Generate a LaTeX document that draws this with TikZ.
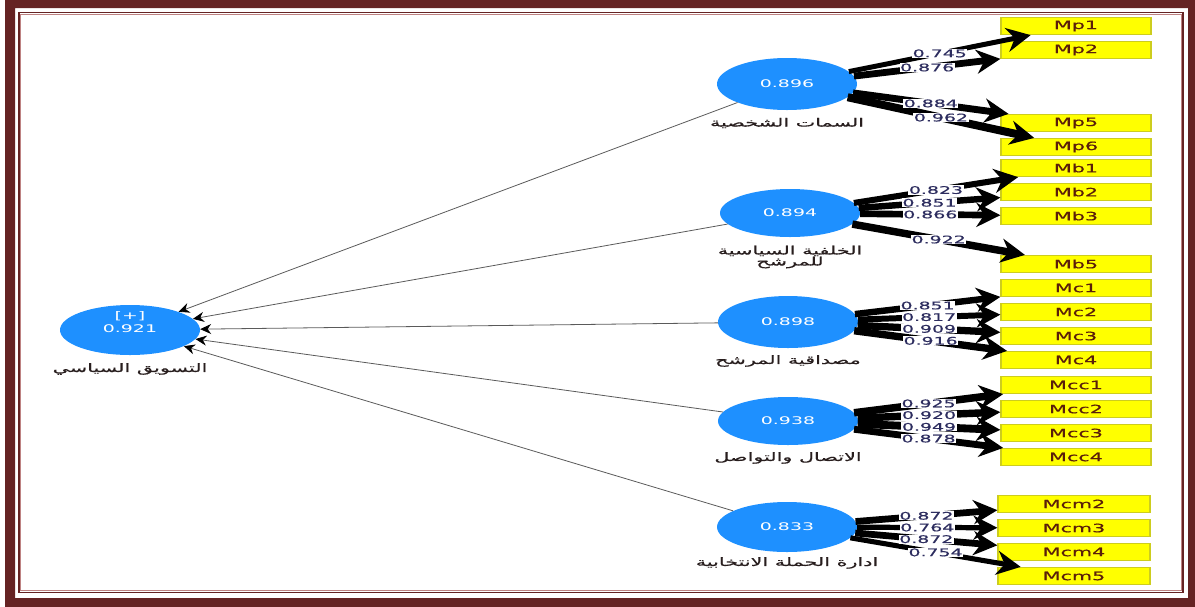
\documentclass[tikz,border=0pt]{standalone}
\usepackage{fontspec}
\setmainfont{DejaVu Sans}
\newfontfamily\widefont[FakeStretch=1.8]{DejaVu Sans}
\newfontfamily\widebold[FakeStretch=1.8,FakeBold=0.6]{DejaVu Sans}
\newfontfamily\arabicfont[Script=Arabic,FakeStretch=1.8,FakeBold=0.6]{DejaVu Sans}
\TeXXeTstate=1
\usetikzlibrary{shapes.geometric,arrows.meta,calc}
\definecolor{framered}{RGB}{101,35,35}
\definecolor{framepink}{RGB}{190,130,130}
\definecolor{lvblue}{RGB}{30,144,255}
\definecolor{boxyellow}{RGB}{255,255,0}
\definecolor{boxedge}{RGB}{205,205,30}
\definecolor{boxtext}{RGB}{90,30,10}
\definecolor{numtext}{RGB}{45,45,95}
\definecolor{arabtext}{RGB}{40,30,30}
\definecolor{structgray}{RGB}{90,90,90}
\tikzset{
  lv/.style={ellipse, fill=lvblue, minimum width=140pt, minimum height=52pt, inner sep=0pt,
    text=white, font=\widefont\fontsize{10.5}{12}\selectfont},
  ind/.style={rectangle, fill=boxyellow, draw=boxedge, line width=1.2pt, minimum width=150pt,
    minimum height=17pt, inner sep=0pt, text=boxtext, font=\widebold\fontsize{11.5}{12}\selectfont},
  load/.style={draw=black, -{Stealth[length=24pt,width=24pt]}},
  lbl/.style={fill=white, inner sep=0.6pt, text=numtext, font=\widebold\fontsize{10.5}{11}\selectfont},
  struct/.style={draw=structgray, line width=0.8pt, -{Stealth[length=11pt,width=10pt,black]}},
  arlabel/.style={text=arabtext, font=\arabicfont\fontsize{11.5}{11}\selectfont, align=center},
}
\begin{document}
\begin{tikzpicture}[x=1pt,y=-1pt]
\useasboundingbox (0,0) rectangle (1195,606);
% frame
\fill[framered,even odd rule] (5,0) rectangle (1196,607) (15,8) rectangle (1188,598);
\draw[framered,line width=1.6pt] (19,12.5) rectangle (1183,592.5);
\draw[framepink,line width=0.9pt] (20.8,14.3) rectangle (1181.2,590.7);
% latent variables
\node[lv, minimum height=50pt] (main) at (130,330) {};
\node[text=white, font=\widefont\fontsize{10.5}{13}\selectfont, align=center] (mainval) at (130,322) {[+]\\0.921};
\node[lv] (e1) at (787,84) {0.896};
\node[lv, minimum height=48pt] (e2) at (790,213) {0.894};
\node[lv] (e3) at (788,322) {0.898};
\node[lv, minimum height=48pt] (e4) at (788,421) {0.938};
\node[lv, minimum height=50pt] (e5) at (787,527) {0.833};
% labels
\node[arlabel] (lmain) at (130,369) {\beginR التسويق السياسي\endR};
\node[arlabel] (l1) at (787,123) {\beginR السمات الشخصية\endR};
\node[arlabel] (l2) at (790,257) {\beginR الخلفية السياسية\endR\\\beginR للمرشح\endR};
\node[arlabel] (l3) at (788,361) {\beginR مصداقية المرشح\endR};
\node[arlabel] (l4) at (788,458) {\beginR الاتصال والتواصل\endR};
\node[arlabel] (l5) at (787,563) {\beginR ادارة الحملة الانتخابية\endR};
% indicators
\node[ind] (mp1) at (1076,26) {Mp1};
\node[ind] (mp2) at (1076,50) {Mp2};
\node[ind] (mp5) at (1076,123) {Mp5};
\node[ind] (mp6) at (1076,147) {Mp6};
\node[ind] (mb1) at (1076,168) {Mb1};
\node[ind] (mb2) at (1076,192) {Mb2};
\node[ind] (mb3) at (1076,216) {Mb3};
\node[ind] (mb5) at (1076,264) {Mb5};
\node[ind] (mc1) at (1076,288) {Mc1};
\node[ind] (mc2) at (1076,312) {Mc2};
\node[ind] (mc3) at (1076,336) {Mc3};
\node[ind] (mc4) at (1076,360) {Mc4};
\node[ind] (mcc1) at (1076,385) {Mcc1};
\node[ind] (mcc2) at (1076,409) {Mcc2};
\node[ind] (mcc3) at (1076,433) {Mcc3};
\node[ind] (mcc4) at (1076,457) {Mcc4};
\node[ind, minimum width=152pt] (mcm2) at (1074,504) {Mcm2};
\node[ind, minimum width=152pt] (mcm3) at (1074,528) {Mcm3};
\node[ind, minimum width=152pt] (mcm4) at (1074,552) {Mcm4};
\node[ind, minimum width=152pt] (mcm5) at (1074,576) {Mcm5};
% structural paths
\foreach \s in {e1,e2,e3,e4,e5} { \draw[struct] (\s) -- (main); }
% loadings
\foreach \a/\b/\v in {e1/mp1/0.745,e1/mp2/0.876,e1/mp5/0.884,e1/mp6/0.962,
  e2/mb1/0.823,e2/mb2/0.851,e2/mb3/0.866,e2/mb5/0.922,
  e3/mc1/0.851,e3/mc2/0.817,e3/mc3/0.909,e3/mc4/0.916,
  e4/mcc1/0.925,e4/mcc2/0.920,e4/mcc3/0.949,e4/mcc4/0.878,
  e5/mcm2/0.872,e5/mcm3/0.764,e5/mcm4/0.872,e5/mcm5/0.754} {
  \pgfmathsetmacro\lw{(\v-0.39)*14}
  \draw[load, line width=\lw pt] (\a) -- (\b);
}
\foreach \a/\b/\v in {e1/mp1/0.745,e1/mp2/0.876,e1/mp5/0.884,e1/mp6/0.962,
  e2/mb1/0.823,e2/mb2/0.851,e2/mb3/0.866,e2/mb5/0.922,
  e3/mc1/0.851,e3/mc2/0.817,e3/mc3/0.909,e3/mc4/0.916,
  e4/mcc1/0.925,e4/mcc2/0.920,e4/mcc3/0.949,e4/mcc4/0.878,
  e5/mcm2/0.872,e5/mcm3/0.764,e5/mcm4/0.872,e5/mcm5/0.754} {
  \path (\a) -- node[lbl] (lab-\b) {\v} (\b);
}
\end{tikzpicture}
\end{document}
